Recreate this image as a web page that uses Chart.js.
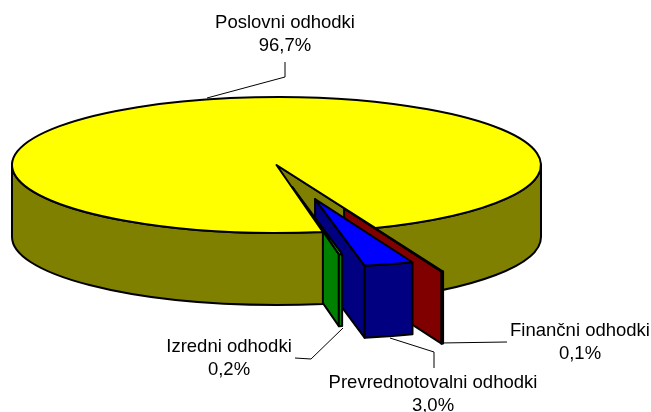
<!DOCTYPE html>
<html>
<head>
<meta charset="utf-8">
<title>Odhodki</title>
<script src="https://cdn.jsdelivr.net/npm/chart.js@4/dist/chart.umd.js"></script>
<style>
    html, body { margin: 0; padding: 0; background: #fff; overflow: hidden; }
    canvas { display: block; }
</style>
</head>
<body>
<canvas id="pieChart" width="651" height="412"></canvas>
<script>
const categories = ['Poslovni odhodki', 'Finančni odhodki', 'Prevrednotovalni odhodki', 'Izredni odhodki'];
const shares = [96.7, 0.1, 3.0, 0.2];
const shareLabels = ['96,7%', '0,1%', '3,0%', '0,2%'];

const topColors = ['#ffff00', '#ff0000', '#0000ff', '#00ff00'];
const sideColors = ['#808000', '#800000', '#000080', '#008000'];
const explode = [0, 182, 138, 88];

// text centre + leader polyline for each slice, same order as categories
const labelCentres = [[285, 23], [580, 331], [433, 383], [229, 347]];
const leaders = [
    [[285, 62], [285, 77], [207, 98]],
    [[507, 342], [440, 343]],
    [[434, 368], [434, 352], [390, 338]],
    [[295, 358], [311, 359], [343, 328]]
];

const TILT = 68 / 264.5;
const DEPTH = 72;
const LINE_GAP = 23;

function apexOf(arc) {
    const mid = (arc.startAngle + arc.endAngle) / 2;
    const off = arc.options.offset || 0;
    return { x: arc.x + Math.cos(mid) * off, y: arc.y + Math.sin(mid) * off * TILT };
}

function paint(ctx, fill) {
    ctx.fillStyle = fill;
    ctx.fill();
    ctx.stroke();
}

function drawTop(ctx, arc, fill) {
    const a = apexOf(arc);
    const r = arc.outerRadius;
    ctx.beginPath();
    ctx.moveTo(a.x, a.y);
    ctx.ellipse(a.x, a.y, r, r * TILT, 0, arc.startAngle, arc.endAngle);
    ctx.closePath();
    paint(ctx, fill);
}

// curved outside wall between two angles
function drawRim(ctx, arc, from, to, fill) {
    const a = apexOf(arc);
    const r = arc.outerRadius;
    ctx.beginPath();
    ctx.ellipse(a.x, a.y, r, r * TILT, 0, from, to);
    ctx.ellipse(a.x, a.y + DEPTH, r, r * TILT, 0, to, from, true);
    ctx.closePath();
    paint(ctx, fill);
}

// flat cut wall running from the apex to the rim at one angle
function drawCut(ctx, arc, angle, fill) {
    const a = apexOf(arc);
    const r = arc.outerRadius;
    const x = a.x + Math.cos(angle) * r;
    const y = a.y + Math.sin(angle) * r * TILT;
    ctx.beginPath();
    ctx.moveTo(a.x, a.y);
    ctx.lineTo(x, y);
    ctx.lineTo(x, y + DEPTH);
    ctx.lineTo(a.x, a.y + DEPTH);
    ctx.closePath();
    paint(ctx, fill);
}

const pie3d = {
    id: 'pie3d',
    beforeDatasetDraw(chart, args) {
        const ctx = chart.ctx;
        const arcs = args.meta.data;
        const main = arcs[0];
        ctx.save();
        ctx.strokeStyle = '#000';
        ctx.lineWidth = chart.data.datasets[0].borderWidth;
        ctx.lineJoin = 'round';

        // back part of the big slice
        drawCut(ctx, main, main.endAngle, sideColors[0]);
        drawRim(ctx, main, Math.PI * 2, main.endAngle, sideColors[0]);

        // pulled out slices
        for (let i = 1; i < arcs.length; i++) {
            drawCut(ctx, arcs[i], arcs[i].endAngle, sideColors[i]);
            drawRim(ctx, arcs[i], arcs[i].startAngle, arcs[i].endAngle, sideColors[i]);
            drawTop(ctx, arcs[i], topColors[i]);
        }

        // big slice goes over their inner ends
        drawRim(ctx, main, main.startAngle, Math.PI, sideColors[0]);
        drawTop(ctx, main, topColors[0]);
        ctx.restore();
        return false;
    },
    afterDraw(chart) {
        const ctx = chart.ctx;
        ctx.save();
        ctx.strokeStyle = '#000';
        ctx.lineWidth = 1;
        leaders.forEach(points => {
            ctx.beginPath();
            points.forEach(([x, y], i) => (i ? ctx.lineTo(x, y) : ctx.moveTo(x, y)));
            ctx.stroke();
        });
        ctx.fillStyle = '#000';
        ctx.font = '18.5px "Liberation Sans", Arial, sans-serif';
        ctx.textAlign = 'center';
        ctx.textBaseline = 'middle';
        categories.forEach((name, i) => {
            const [x, y] = labelCentres[i];
            ctx.fillText(name, x, y);
            ctx.fillText(shareLabels[i], x, y + LINE_GAP);
        });
        ctx.restore();
    }
};

new Chart(document.getElementById('pieChart'), {
    type: 'pie',
    data: {
        labels: categories,
        datasets: [{
            data: shares,
            backgroundColor: topColors,
            borderColor: '#000',
            borderWidth: 2,
            offset: explode
        }]
    },
    options: {
        responsive: false,
        animation: false,
        rotation: 169.9,
        radius: 264.5,
        layout: { padding: { left: 12, right: 110, top: 0, bottom: 82 } },
        plugins: { legend: { display: false }, tooltip: { enabled: false } }
    },
    plugins: [pie3d]
});
</script>
</body>
</html>
